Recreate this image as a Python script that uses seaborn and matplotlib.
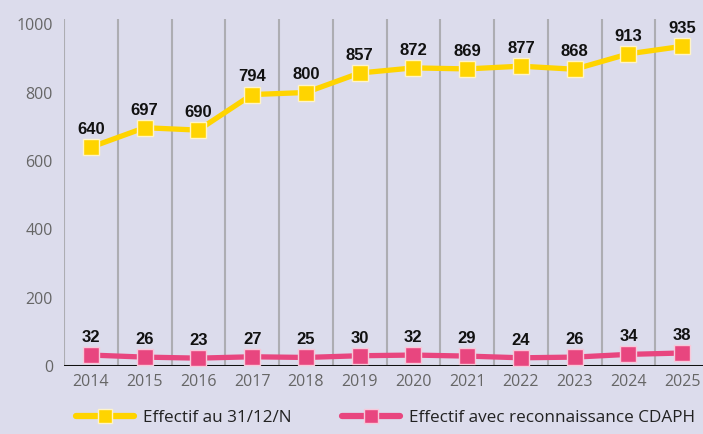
import matplotlib
matplotlib.use("Agg")
import matplotlib.pyplot as plt
import seaborn as sns
import pandas as pd
from matplotlib.lines import Line2D

years = ["2014", "2015", "2016", "2017", "2018", "2019", "2020", "2021", "2022", "2023", "2024", "2025"]
effectif = [640, 697, 690, 794, 800, 857, 872, 869, 877, 868, 913, 935]
cdaph = [32, 26, 23, 27, 25, 30, 32, 29, 24, 26, 34, 38]
series_names = ["Effectif au 31/12/N", "Effectif avec reconnaissance CDAPH"]

bg = "#DCDCEC"
yellow = "#FFD400"
pink = "#E8467F"
yellow_edge = "#FFF4C8"
pink_edge = "#F8C8DA"

sns.set_theme(style="white")
plt.rcParams["font.family"] = ["Open Sans", "DejaVu Sans"]

df = pd.DataFrame({
    "pos": list(range(len(years))) * 2,
    "value": effectif + cdaph,
    "serie": [series_names[0]] * len(years) + [series_names[1]] * len(years),
})

fig = plt.figure(figsize=(7.03, 4.34), dpi=100, facecolor=bg)
ax = fig.add_axes([64 / 703, (434 - 366) / 434, (709 - 64) / 703, (366 - 19) / 434])
ax.set_facecolor(bg)

sns.lineplot(data=df, x="pos", y="value", hue="serie", palette=[yellow, pink],
             marker="s", markersize=12, linewidth=3.8, markeredgecolor=yellow_edge,
             markeredgewidth=1.0, legend=False, ax=ax, zorder=5)
for ln in ax.get_lines():
    if matplotlib.colors.to_hex(ln.get_color()).lower() == pink.lower():
        ln.set_markeredgecolor(pink_edge)

ax.set_xlim(-0.5, 11.5)
ax.set_ylim(0, 1015)
ax.set_yticks([0, 200, 400, 600, 800, 1000])
ax.set_xticks(range(len(years)))
ax.set_xticklabels(years)
for b in [i - 0.5 for i in range(len(years))]:
    ax.axvline(b, color="#ADADB2", lw=1.5, zorder=1)
ax.axhline(0, color="#111111", lw=2.2, zorder=3)
for s in ax.spines.values():
    s.set_visible(False)
ax.tick_params(axis="both", length=0, labelsize=11.5, labelcolor="#666666", pad=6)
ax.tick_params(axis="y", pad=8)
ax.set_xlabel("")
ax.set_ylabel("")

for series in (effectif, cdaph):
    for i, v in enumerate(series):
        ax.annotate(str(v), (i, v), xytext=(0, 9.5), textcoords="offset points",
                    ha="center", va="baseline", fontsize=12, fontweight="bold",
                    family=["Liberation Sans", "DejaVu Sans"], color="#111111")

handles = [
    Line2D([], [], color=yellow, lw=4.5, marker="s", markersize=10, markeredgecolor=yellow_edge),
    Line2D([], [], color=pink, lw=4.5, marker="s", markersize=10, markeredgecolor=pink_edge),
]
fig.legend(handles, series_names, loc="center left", bbox_to_anchor=(76 / 703, 0.037), ncol=2,
           frameon=False, fontsize=12.3, handlelength=3.4, handletextpad=0.5,
           columnspacing=3.0, labelcolor="#222222", borderaxespad=0, borderpad=0)

fig.savefig("out.png", dpi=100, facecolor=bg)
